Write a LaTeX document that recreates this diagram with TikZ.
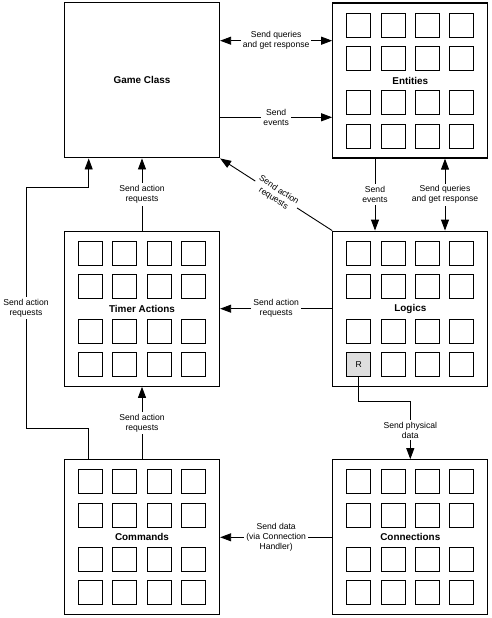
\documentclass[tikz,border=0pt]{standalone}
\usepackage{fontspec}
\setmainfont{Liberation Sans}
\usetikzlibrary{arrows.meta,calc}
\begin{document}
\begin{tikzpicture}[x=1pt,y=-1pt,
  bigbox/.style={draw, line width=1.3pt, minimum width=155pt, minimum height=155pt, inner sep=0pt, font=\fontsize{9.9}{12}\selectfont\bfseries},
  cell/.style={draw, line width=0.9pt, minimum size=24pt, inner sep=0pt},
  wire/.style={line width=0.9pt},
  lbl/.style={fill=white, align=center, inner sep=2pt, font=\fontsize{8.6}{10}\selectfont},
  tip/.style={-{Triangle[length=11pt,width=8pt]}},
  tips/.style={{Triangle[length=11pt,width=8pt]}-{Triangle[length=11pt,width=8pt]}}
]
\useasboundingbox (0,0) rectangle (491,618);

\node[bigbox] (gc)  at (142,80.3)   {Game Class};
\node[bigbox] (ent) at (410.3,80.5) {Entities};
\node[bigbox] (ta)  at (142,308.7)  {Timer Actions};
\node[bigbox] (log) at (410.3,308.7){Logics};
\node[bigbox] (cmd) at (142,537.3)  {Commands};
\node[bigbox] (con) at (410.3,537.3){Connections};

\foreach \b in {ent,ta,cmd,con}
  \foreach \i/\dx in {1/-51.5,2/-17.2,3/17.2,4/51.5}
    \foreach \j/\dy in {1/-55.5,2/-22.3,3/22.3,4/55.5}
      \node[cell] (\b-\j-\i) at ($(\b)+(\dx,\dy)$) {};

\foreach \i/\dx in {1/-51.5,2/-17.2,3/17.2,4/51.5}
  \foreach \j/\dy in {1/-55.5,2/-22.3,3/22.3,4/55.5}
    {\ifnum\i\j=14 \else \node[cell] (log-\j-\i) at ($(log)+(\dx,\dy)$) {};\fi}

\node[cell, fill=black!13, font=\fontsize{8.6}{10}\selectfont] (r) at ($(log)+(-51.5,55.5)$) {R};

\coordinate (ya) at (0,40.7);
\coordinate (yb) at (0,117.3);
\coordinate (xa) at (375,0);
\coordinate (xb) at (445,0);
\coordinate (c1) at (88.7,428.7);
\coordinate (c2) at (26,428.7);
\coordinate (c3) at (26,187.7);
\coordinate (c4) at (88.7,187.7);
\coordinate (c5) at (0,401);

\draw[wire,tips] (gc.east |- ya) -- node[lbl]{Send queries\\and get response} (ent.west |- ya);
\draw[wire,tip] (gc.east |- yb) -- node[lbl]{Send\\events} (ent.west |- yb);
\draw[wire,tip] (log.north west) -- node[lbl,sloped]{Send action\\requests} (gc.south east);
\draw[wire,tip] (ent.south -| xa) -- node[lbl]{Send\\events} (log.north -| xa);
\draw[wire,tips] (ent.south -| xb) -- node[lbl]{Send queries\\and get response} (log.north -| xb);
\draw[wire,tip] (log.west) -- node[lbl]{Send action\\requests} (ta.east);
\draw[wire,tip] (ta.north) -- node[lbl]{Send action\\requests} (gc.south);
\draw[wire,tip] (cmd.north) -- node[lbl]{Send action\\requests} (ta.south);
\draw[wire,tip] (cmd.north -| c1) -- (c1) -- (c2) -- node[lbl]{Send action\\requests} (c3) -- (c4) -- (gc.south -| c4);
\draw[wire,tip] (r.south) -- (r.south |- c5) -| node[lbl,pos=0.75]{Send physical\\data} (con.north);
\draw[wire,tip] (con.west) -- node[lbl]{Send data\\(via Connection\\Handler)} (cmd.east);
\end{tikzpicture}
\end{document}
